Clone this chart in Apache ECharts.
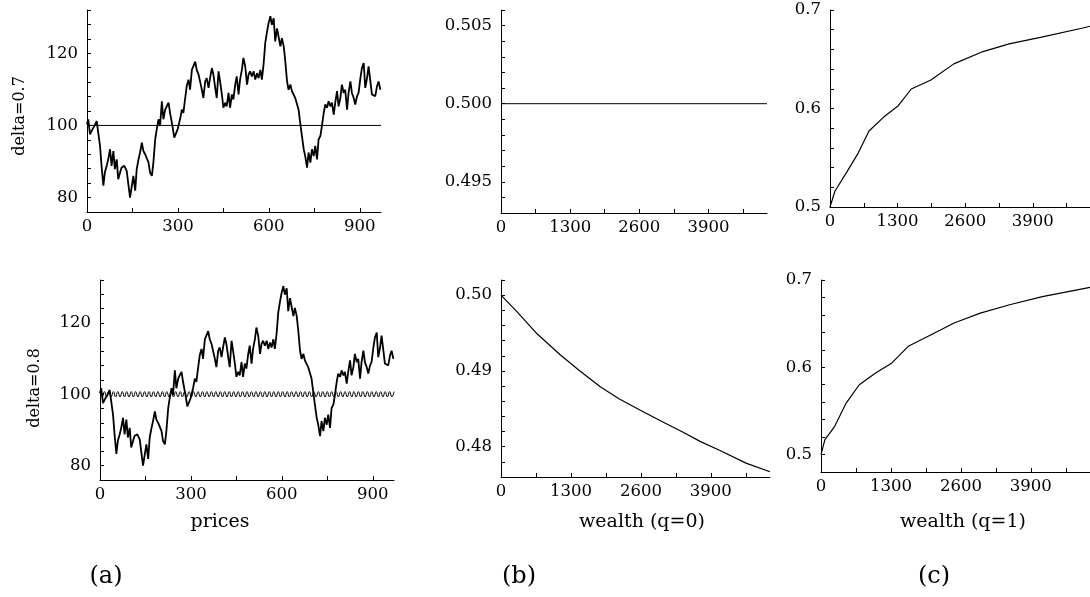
<!DOCTYPE html>
<html>
<head>
<meta charset="utf-8">
<script src="https://cdn.jsdelivr.net/npm/echarts@6/dist/echarts.min.js"></script>
<style>
html,body{margin:0;padding:0;background:#fff;}
#chart{width:1090px;height:597px;}
</style>
</head>
<body>
<div id="chart"></div>
<script>
// ---------- data ----------
// (a) price path (same in both delta panels)
const priceT = [0,4,10,18,24,32,37,43,48,54,59,65,70,76,81,87,92,98,103,109,
114,123,131,137,142,148,153,159,164,170,175,181,186,192,197,203,208,214,219,225,
230,236,241,247,252,258,263,269,274,282,288,293,299,307,313,318,
324,329,335,340,346,351,357,362,368,373,379,384,390,395,401,406,412,417,423,428,
434,439,445,450,456,461,467,472,478,483,489,494,500,505,511,516,522,528,533,538,
544,550,555,561,566,572,577,583,588,594,599,605,610,616,621,627,632,638,643,649,
654,660,665,671,676,682,687,693,698,704,709,715,720,726,731,737,742,748,753,759,
764,770,775,781,786,792,797,803,808,814,819,825,830,836,841,847,852,858,863,869,
874,880,885,891,896,902,907,913,918,924,929,935,940,946,951,957,962,968];
const priceV = [100.3,101.7,97.5,98.9,99.8,101.2,98,94.3,88.8,83.3,87,88.8,90.6,93.4,88.8,92.9,87.9,90.6,85.1,86.9,
88.3,88.8,87.4,83.3,80,83.3,86,81.9,87.9,90.6,92.5,95.2,92.9,92,91.5,89.7,86.9,86,89.7,96.1,
98.9,101.7,99.8,106.7,101.7,104.4,105.3,106.3,103.5,99.8,96.6,96.1,98.9,101.7,104.4,103.5,
107.6,110.9,112.7,109.9,115.4,115.9,117.7,115.4,114.1,112.2,109.9,107.6,112.2,113.1,110.4,113.1,115.9,114.1,110.4,107.6,
115,112.2,108.6,104.9,106.3,105.3,109,104.9,108.6,107.2,111.3,113.6,108.6,112.7,115.4,118.7,116.4,111.3,114.1,115,
113.6,115,112.7,114.5,113.1,115.4,112.7,117.3,122.8,126,128.3,130.3,127.9,129.7,123.3,126.9,124.6,121.9,124.2,121.9,
118,112.2,109.9,111.3,109.5,109.9,107.6,107.2,104.4,100.3,97.1,93.4,91.5,88.3,92.5,89.7,93.4,91.5,94.3,90.6,
96.1,97.1,99.8,103.5,105.8,104.9,106.7,105.3,106.3,103,106.3,109.5,105.3,107.6,111.3,109,109.9,104.4,109,112.2,
109,107.6,105.8,108.1,109,113.1,115.9,117.3,110.4,113.1,116.4,112.2,108.6,109,108.1,110.9,112.2,109.9];
// (a) reference levels
const fundamentalA = 100;           // delta=0.7 flat line
const waveStep = 7.35;              // half period of the delta=0.8 oscillation (time units)
const waveV = [
100.75,99.25,100.75,99.25,100.75,99.25,100.75,99.25,100.75,99.25,100.75,99.25,100.75,99.25,100.75,99.25,100.75,99.25,100.75,99.25,
100.75,99.25,100.75,99.25,100.75,99.25,100.75,99.25,100.75,99.25,100.75,99.25,100.75,99.25,100.75,99.25,100.75,99.25,100.75,99.25,
100.75,99.25,100.75,99.25,100.75,99.25,100.75,99.25,100.75,99.25,100.75,99.25,100.75,99.25,100.75,99.25,100.75,99.25,100.75,99.25,
100.75,99.25,100.75,99.25,100.75,99.25,100.75,99.25,100.75,99.25,100.75,99.25,100.75,99.25,100.75,99.25,100.75,99.25,100.75,99.25,
100.75,99.25,100.75,99.25,100.75,99.25,100.75,99.25,100.75,99.25,100.75,99.25,100.75,99.25,100.75,99.25,100.75,99.25,100.75,99.25,
100.75,99.25,100.75,99.25,100.75,99.25,100.75,99.25,100.75,99.25,100.75,99.25,100.75,99.25,100.75,99.25,100.75,99.25,100.75,99.25,
100.75,99.25,100.75,99.25,100.75,99.25,100.75,99.25,100.75,99.25,100.75,99.25,100.75];
const priceEnd = 970;
// (b) wealth shares
const shareBTop = 0.5;
const wealthB = [0,300,670,1105,1450,1845,2200,2590,3000,3385,3700,4070,4565,5000];
const shareB  = [0.5,0.4978,0.4949,0.4921,0.4901,0.4879,0.4863,0.4848,0.4833,0.4819,0.4807,0.4795,0.4778,0.4767];
// (c) wealth shares
const wealthC1 = [0,94,313,545,750,1032,1313,1563,1940,2380,2943,3444,4070,4885,5000];
const shareC1  = [0.5,0.516,0.5347,0.555,0.5772,0.5913,0.6028,0.6198,0.629,0.6453,0.6578,0.6656,0.6724,0.682,0.6835];
const wealthC2 = [0,73,255,468,711,1015,1318,1622,2047,2473,2960,3507,4115,4905,5000];
const shareC2  = [0.5,0.517,0.5323,0.559,0.58,0.5935,0.605,0.624,0.6373,0.6507,0.662,0.6716,0.681,0.6905,0.6915];
// tick labels
const priceTicks = [0,300,600,900];
const wealthTicks = [0,1300,2600,3900];

// ---------- build ----------
const zip = (xs, ys) => xs.map((x, i) => [x, ys[i]]);
const priceData = zip(priceT, priceV);
const waveData = waveV.map((v, i) => [i * waveStep, v]);

const FONT = '"DejaVu Serif", "Liberation Serif", serif';
const axisLine = { lineStyle: { color: '#000', width: 1 } };
const tick = { inside: true, length: 4, lineStyle: { color: '#000', width: 1 } };

function xAx(grid, max, interval, labelSet) {
  return {
    type: 'value', gridIndex: grid, min: 0, max: max, interval: interval,
    axisLine: axisLine, axisTick: tick, splitLine: { show: false },
    axisLabel: {
      color: '#000', fontFamily: FONT, fontSize: 16.5, margin: 6,
      showMaxLabel: false,
      formatter: v => (labelSet.indexOf(v) >= 0 ? String(v) : '')
    }
  };
}
function yAx(grid, min, max, interval, fmt) {
  return {
    type: 'value', gridIndex: grid, min: min, max: max, interval: interval,
    axisLine: axisLine, axisTick: tick, splitLine: { show: false },
    axisLabel: { color: '#000', fontFamily: FONT, fontSize: 16.5, margin: 9, formatter: fmt,
      showMinLabel: true, showMaxLabel: true }
  };
}
const fmtA = v => (Math.round(v) % 20 === 0 ? String(Math.round(v)) : '');
const fmtBTop = v => { const k = Math.round(v * 1000); return k % 5 === 0 ? (k / 1000).toFixed(3) : ''; };
const fmtBBot = v => { const k = Math.round(v * 1000); return k % 10 === 0 ? (k / 1000).toFixed(2) : ''; };
const fmtC = v => { const k = Math.round(v * 100); return k % 10 === 0 ? (k / 100).toFixed(1) : ''; };

function line(xi, data, w, smooth) {
  return {
    type: 'line', xAxisIndex: xi, yAxisIndex: xi, data: data, showSymbol: false,
    smooth: smooth || false, clip: true,
    lineStyle: { color: '#000', width: w }, silent: true
  };
}

function txt(text, x, y, size, rot) {
  return {
    type: 'text', x: x, y: y, rotation: rot || 0,
    style: { text: text, x: 0, y: 0, fill: '#000', font: size + 'px ' + FONT,
      textAlign: 'center', textVerticalAlign: 'middle', align: 'center', verticalAlign: 'middle' }
  };
}

const chart = echarts.init(document.getElementById('chart'), null, { renderer: 'canvas' });
chart.setOption({
  animation: false,
  backgroundColor: '#fff',
  grid: [
    { left: 87, top: 10, width: 294, height: 202 },
    { left: 100, top: 280, width: 294, height: 200 },
    { left: 501, top: 10, width: 266, height: 203 },
    { left: 501, top: 280, width: 269, height: 197 },
    { left: 830, top: 10, width: 266, height: 197 },
    { left: 821, top: 280, width: 274, height: 192 }
  ],
  xAxis: [
    xAx(0, priceEnd, 150, priceTicks),
    xAx(1, priceEnd, 150, priceTicks),
    xAx(2, 5000, 650, wealthTicks),
    xAx(3, 5000, 650, wealthTicks),
    xAx(4, 5000, 650, wealthTicks),
    xAx(5, 5000, 650, wealthTicks)
  ],
  yAxis: [
    yAx(0, 76, 132, 4, fmtA),
    yAx(1, 76, 132, 4, fmtA),
    yAx(2, 0.493, 0.506, 0.001, fmtBTop),
    yAx(3, 0.476, 0.502, 0.002, fmtBBot),
    yAx(4, 0.5, 0.7, 0.02, fmtC),
    yAx(5, 0.48, 0.7, 0.02, fmtC)
  ],
  series: [
    line(0, [[0, fundamentalA], [priceEnd, fundamentalA]], 1),
    line(0, priceData, 1.8),
    line(1, waveData, 1, true),
    line(1, priceData, 1.8),
    line(2, [[0, shareBTop], [5000, shareBTop]], 1),
    line(3, zip(wealthB, shareB), 1.2),
    line(4, zip(wealthC1, shareC1), 1.2),
    line(5, zip(wealthC2, shareC2), 1.2)
  ],
  graphic: [
    txt('delta=0.7', 20, 116, 16, Math.PI / 2),
    txt('delta=0.8', 35, 388, 16, Math.PI / 2),
    txt('prices', 220, 522, 19),
    txt('wealth (q=0)', 642, 522, 19),
    txt('wealth (q=1)', 963, 522, 19),
    txt('(a)', 106, 577, 24),
    txt('(b)', 519, 577, 24),
    txt('(c)', 934, 577, 24)
  ]
});
</script>
</body>
</html>
